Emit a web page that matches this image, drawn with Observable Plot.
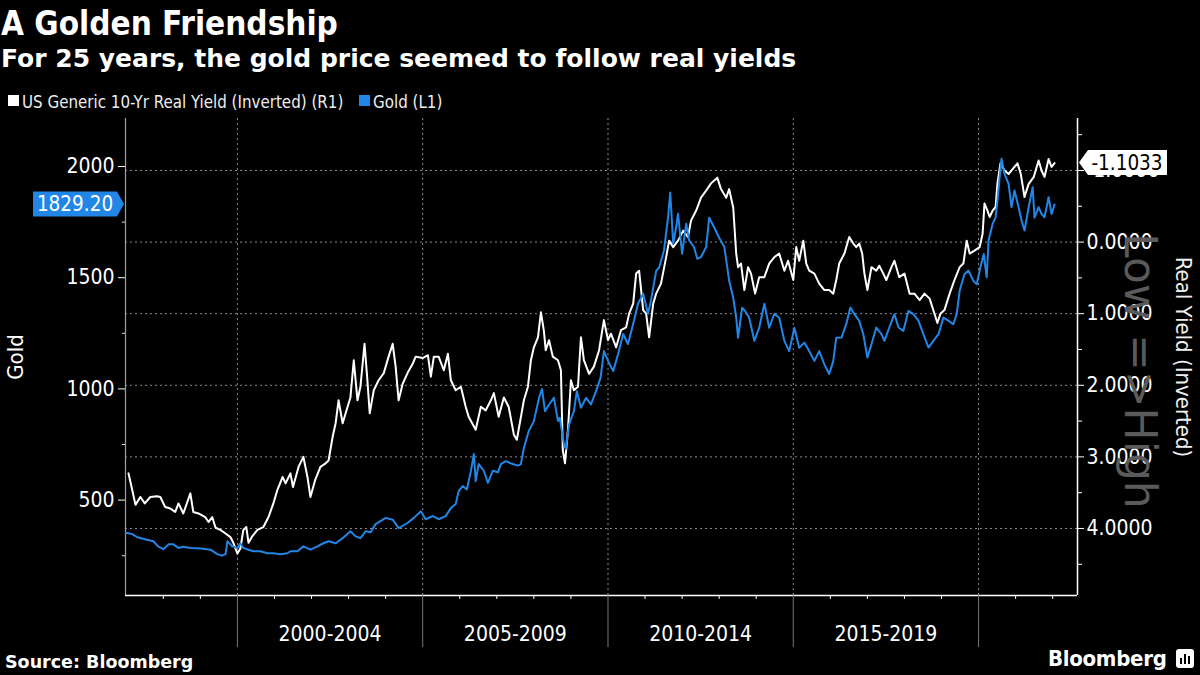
<!DOCTYPE html>
<html><head><meta charset="utf-8">
<script src="https://cdn.jsdelivr.net/npm/d3@7"></script>
<script src="https://cdn.jsdelivr.net/npm/@observablehq/plot@0.6"></script>
<style>
html,body{margin:0;padding:0;background:#000;}
#wrap{position:relative;width:1200px;height:675px;background:#000;overflow:hidden;color:#fff;font-family:"DejaVu Sans Condensed","Liberation Sans Narrow","DejaVu Sans",sans-serif;}
.t{position:absolute;white-space:nowrap;line-height:1;}
#title{left:1px;top:7px;font-size:33px;font-weight:bold;}
#subtitle{left:1px;top:46px;font-size:25px;font-weight:bold;font-family:"DejaVu Sans",sans-serif;}
.sw{position:absolute;width:11px;height:11px;}
.leg{font-size:16.8px;top:94px;color:#eee;}
#source{left:5px;top:654px;font-size:17.5px;font-weight:bold;font-family:"DejaVu Sans",sans-serif;}
#logo{left:1048px;top:648px;font-size:22px;font-weight:bold;letter-spacing:-0.3px;}
#icon{position:absolute;left:1176px;top:649px;width:18px;height:19px;background:#fff;border-radius:3px;}
#icon span{position:absolute;bottom:4px;width:2px;background:#000;}
#chart{position:absolute;left:0;top:112px;}
</style></head><body>
<div id="wrap">
  <div id="title" class="t">A Golden Friendship</div>
  <div id="subtitle" class="t">For 25 years, the gold price seemed to follow real yields</div>
  <div class="sw" style="left:8px;top:95px;background:#fff"></div>
  <div class="t leg" style="left:22px">US Generic 10-Yr Real Yield (Inverted) (R1)</div>
  <div class="sw" style="left:359px;top:95px;background:#2186e6"></div>
  <div class="t leg" style="left:373px">Gold (L1)</div>
  <div id="chart"></div>
  <div id="source" class="t">Source: Bloomberg</div>
  <div id="logo" class="t">Bloomberg</div>
  <div id="icon"><span style="left:4px;height:6px"></span><span style="left:8px;height:10px"></span><span style="left:12px;height:8px"></span></div>
</div>
<script>
// ---- data ----
const yieldT = [1997.06,1997.10,1997.25,1997.38,1997.50,1997.65,1997.83,1997.92,1998.05,1998.19,1998.32,1998.41,1998.54,1998.73,1998.81,1998.95,
1999.13,1999.22,1999.32,1999.41,1999.54,1999.68,1999.81,1999.89,2000.00,2000.08,2000.16,2000.24,2000.30,2000.40,2000.54,2000.70,2000.84,2000.97,
2001.08,2001.22,2001.30,2001.43,2001.50,2001.65,2001.78,2001.89,2001.97,2002.10,2002.24,2002.38,2002.46,2002.57,2002.65,2002.73,2002.84,2002.92,
2003.05,2003.14,2003.24,2003.32,2003.43,2003.50,2003.57,2003.68,2003.81,2003.95,2004.08,2004.19,2004.27,2004.35,2004.46,2004.59,2004.73,2004.81,
2005.00,2005.14,2005.22,2005.30,2005.43,2005.57,2005.68,2005.76,2005.89,2006.03,2006.16,2006.24,2006.43,2006.57,2006.70,2006.84,2006.92,
2007.05,2007.19,2007.32,2007.46,2007.54,2007.62,2007.73,2007.84,2007.92,2008.00,2008.11,2008.19,2008.27,2008.32,2008.41,2008.51,2008.65,2008.73,
2008.78,2008.84,2008.92,2009.00,2009.08,2009.19,2009.27,2009.35,2009.49,2009.62,2009.76,2009.89,2010.00,2010.08,2010.22,2010.35,2010.49,2010.57,
2010.68,2010.76,2010.84,2010.95,2011.03,2011.11,2011.22,2011.30,2011.43,2011.57,2011.65,2011.76,2011.89,2012.03,2012.16,2012.24,2012.38,2012.51,
2012.65,2012.78,2012.95,2013.05,2013.19,2013.27,2013.38,2013.46,2013.51,2013.59,2013.68,2013.78,2013.86,2013.97,2014.08,2014.22,2014.35,2014.49,
2014.62,2014.76,2014.86,2015.00,2015.08,2015.16,2015.27,2015.35,2015.43,2015.57,2015.70,2015.84,2015.97,2016.08,2016.16,2016.24,2016.38,2016.51,
2016.62,2016.70,2016.78,2016.86,2016.92,2017.00,2017.11,2017.24,2017.32,2017.43,2017.51,2017.65,2017.73,2017.86,2018.00,2018.14,2018.27,2018.41,
2018.54,2018.68,2018.81,2018.89,2018.97,2019.08,2019.22,2019.35,2019.49,2019.59,2019.68,2019.76,2019.89,2020.03,2020.11,2020.16,2020.24,2020.30,
2020.38,2020.46,2020.51,2020.59,2020.70,2020.81,2020.89,2020.97,2021.05,2021.14,2021.24,2021.35,2021.49,2021.62,2021.70,2021.78,2021.89,2021.97,2022.05];
const yieldV = [3.23,3.32,3.67,3.56,3.65,3.56,3.55,3.56,3.70,3.72,3.77,3.65,3.79,3.51,3.77,3.79,
3.84,3.91,3.84,3.99,4.02,4.07,4.12,4.20,4.35,4.28,4.02,3.98,4.20,4.11,4.02,3.98,3.84,3.65,
3.46,3.28,3.37,3.23,3.42,3.14,3.00,3.28,3.56,3.32,3.14,3.09,3.05,2.72,2.53,2.21,2.53,2.39,
2.17,1.65,2.21,2.02,1.42,1.88,2.39,2.07,1.93,1.83,1.60,1.42,1.74,2.21,1.98,1.83,1.70,1.60,
1.62,1.58,1.88,1.60,1.60,1.79,1.56,1.93,2.07,2.02,2.30,2.44,2.62,2.30,2.35,2.21,2.11,
2.44,2.17,2.30,2.69,2.76,2.53,2.21,2.02,1.65,1.47,1.33,0.98,1.24,1.51,1.37,1.60,1.65,1.79,
2.90,3.09,2.62,1.93,2.07,2.02,1.33,1.65,1.84,1.74,1.51,1.09,1.37,1.28,1.47,1.23,1.19,1.00,
0.86,0.44,0.40,0.95,1.00,1.33,0.86,0.72,0.58,0.21,-0.02,0.07,-0.02,-0.16,-0.07,-0.30,-0.44,-0.62,
-0.72,-0.82,-0.90,-0.74,-0.62,-0.74,-0.48,0.16,0.35,0.30,0.67,0.35,0.44,0.72,0.49,0.49,0.30,0.21,
0.16,0.40,0.26,0.53,0.07,0.26,-0.02,0.30,0.40,0.44,0.58,0.67,0.67,0.72,0.53,0.30,0.16,-0.07,
0.02,0.07,0.02,0.16,0.44,0.67,0.35,0.40,0.33,0.44,0.53,0.35,0.26,0.49,0.44,0.72,0.72,0.81,
0.72,0.79,1.00,1.13,1.00,0.95,0.72,0.53,0.35,0.30,-0.02,0.16,0.12,0.07,-0.12,-0.54,-0.44,-0.35,
-0.44,-0.49,-0.82,-1.10,-1.00,-0.95,-1.00,-1.05,-1.10,-0.95,-0.63,-0.81,-0.91,-1.14,-1.00,-0.91,-1.16,-1.05,-1.1033];

const goldT = [1997.00,1997.16,1997.30,1997.50,1997.73,1997.86,1998.00,1998.14,1998.27,1998.41,1998.54,1998.73,1998.92,1999.08,1999.27,1999.46,
1999.59,1999.68,1999.73,1999.86,2000.00,2000.08,2000.16,2000.30,2000.43,2000.62,2000.81,2000.97,2001.16,2001.35,2001.43,2001.62,2001.78,2001.97,
2002.16,2002.32,2002.46,2002.65,2002.84,2003.05,2003.19,2003.32,2003.46,2003.59,2003.73,2004.00,2004.19,2004.35,2004.59,2004.76,2004.95,
2005.08,2005.27,2005.43,2005.62,2005.76,2005.89,2005.97,2006.08,2006.19,2006.30,2006.38,2006.43,2006.51,2006.65,2006.76,2006.89,
2007.03,2007.11,2007.24,2007.43,2007.57,2007.65,2007.73,2007.86,2008.00,2008.14,2008.22,2008.30,2008.41,2008.54,2008.65,2008.70,2008.81,2008.86,2008.95,
2009.08,2009.16,2009.27,2009.41,2009.54,2009.68,2009.80,2009.89,2010.00,2010.14,2010.27,2010.41,2010.54,2010.68,2010.81,2010.95,
2011.08,2011.16,2011.30,2011.38,2011.51,2011.62,2011.68,2011.76,2011.84,2011.89,2012.00,2012.11,2012.19,2012.32,2012.41,2012.51,2012.65,2012.73,2012.86,
2013.00,2013.14,2013.27,2013.38,2013.46,2013.51,2013.62,2013.70,2013.81,2013.95,2014.08,2014.22,2014.35,2014.49,2014.62,2014.76,2014.89,
2015.03,2015.16,2015.30,2015.43,2015.57,2015.70,2015.84,2015.97,2016.08,2016.16,2016.30,2016.43,2016.54,2016.65,2016.78,2016.89,
2017.00,2017.11,2017.24,2017.38,2017.46,2017.59,2017.73,2017.84,2017.97,2018.11,2018.24,2018.38,2018.51,2018.65,2018.78,2018.92,
2019.05,2019.19,2019.32,2019.41,2019.49,2019.62,2019.73,2019.86,2019.95,2020.05,2020.14,2020.22,2020.27,2020.38,2020.46,2020.51,2020.57,2020.62,
2020.70,2020.81,2020.89,2020.97,2021.08,2021.16,2021.24,2021.35,2021.46,2021.51,2021.62,2021.70,2021.78,2021.89,2021.97,2022.05];
const goldV = [353,347,333,324,315,292,279,301,301,285,290,285,284,281,277,257,
250,257,315,292,284,306,285,277,270,270,261,261,256,261,270,270,292,277,
292,306,315,306,329,360,337,329,360,355,392,420,412,374,397,420,450,
414,428,414,428,464,482,540,563,548,630,707,585,662,632,577,632,
625,662,675,662,655,662,734,810,855,960,1000,900,930,960,856,870,752,730,840,
900,990,915,960,930,990,1050,1170,1126,1080,1155,1247,1202,1293,1383,1428,
1338,1398,1531,1546,1622,1770,1883,1653,1728,1788,1608,1743,1668,1638,1585,1593,1638,1770,1728,
1680,1638,1486,1410,1320,1230,1365,1350,1320,1216,1275,1383,1275,1338,1320,1216,1170,
1275,1185,1208,1170,1126,1170,1110,1067,1126,1230,1231,1291,1366,1336,1306,1246,
1141,1201,1276,1246,1216,1276,1336,1276,1261,1351,1336,1306,1246,1186,1216,1246,
1321,1306,1291,1336,1441,1517,1532,1486,1471,1547,1607,1502,1667,1742,1772,1847,1952,2035,
1967,1922,1817,1892,1817,1757,1712,1817,1907,1770,1817,1787,1772,1862,1787,1829.20];

const goldTicks = [500, 1000, 1500, 2000];
const goldMinorTicks = [250, 750, 1250, 1750];
const yieldTicks = [-1, 0, 1, 2, 3, 4];
const yieldMinorTicks = [-1.5, -0.5, 0.5, 1.5, 2.5, 3.5, 4.5];
const majorYears = [2000, 2005, 2010, 2015, 2020];
const minorYears = [1998, 1999, 2001, 2002, 2003, 2004, 2006, 2007, 2008, 2009, 2011, 2012, 2013, 2014, 2016, 2017, 2018, 2019, 2021, 2022];
const periodCenters = [2002.5, 2007.5, 2012.5, 2017.5];
const periodLabels = ["2000-2004", "2005-2009", "2010-2014", "2015-2019"];

// ---- scales ----
const xDomain = [1996.98, 2022.67];
const goldDomain = [71, 2216];
const yieldDomain = [4.936, -1.726];      // bottom -> top (inverted)
const toG = d3.scaleLinear().domain(yieldDomain).range(goldDomain);

const BLUE = "#2186e6";
const FONT = '"DejaVu Sans Condensed","Liberation Sans Narrow","DejaVu Sans",sans-serif';
const GRID = "#8c8c8c";

const yieldData = yieldT.map((t, i) => ({t, v: toG(yieldV[i])}));
const goldData = goldT.map((t, i) => ({t, v: goldV[i]}));
const fmtY = g => { const v = Math.round(toG.invert(g) * 1e4) / 1e4; return (Object.is(v, -0) ? 0 : v).toFixed(4); };

const chart = Plot.plot({
  width: 1200, height: 538,
  marginTop: 6, marginBottom: 55, marginLeft: 125, marginRight: 123,
  style: {background: "#000", color: "#fff", fontFamily: FONT, fontSize: "20px", overflow: "visible"},
  x: {type: "linear", domain: xDomain, label: null},
  y: {type: "linear", domain: goldDomain, label: null},
  marks: [
    Plot.ruleY(yieldTicks.map(toG), {stroke: GRID, strokeDasharray: "2,3", strokeWidth: 1}),
    Plot.ruleX(majorYears, {stroke: GRID, strokeDasharray: "2,3", strokeWidth: 1}),
    Plot.ruleX([xDomain[0]], {stroke: "#a0a0a0", strokeWidth: 1.2}),
    Plot.ruleX([xDomain[1]], {stroke: "#fff", strokeWidth: 1.5}),
    Plot.ruleY([goldDomain[0]], {stroke: "#fff", strokeWidth: 1.5}),
    // left axis
    Plot.axisY(goldTicks, {anchor: "left", tickSize: 7, tickPadding: 4, fontSize: 21, color: "#fff", label: null, tickFormat: d => String(d)}),
    Plot.axisY(goldMinorTicks, {anchor: "left", tickSize: 3, tickFormat: () => "", color: "#ddd", label: null}),
    // right axis (real yield, inverted)
    Plot.axisY(yieldTicks.map(toG), {anchor: "right", tickSize: 6, tickPadding: 3, fontSize: 21, tickFormat: fmtY, color: "#fff", label: null}),
    Plot.axisY(yieldMinorTicks.map(toG), {anchor: "right", tickSize: 4, tickFormat: () => "", color: "#fff", label: null}),
    // bottom axis
    Plot.axisX(minorYears, {anchor: "bottom", tickSize: 4, tickFormat: () => "", color: "#fff", label: null}),
    Plot.axisX(majorYears, {anchor: "bottom", tickSize: 52, tickFormat: () => "", color: "#777", label: null}),
    Plot.axisX(periodCenters, {anchor: "bottom", tickSize: 0, tickPadding: 31, fontSize: 21, color: "#fff", label: null,
      tickFormat: d => periodLabels[periodCenters.indexOf(d)]}),
    // axis titles
    Plot.text(["Gold"], {frameAnchor: "left", textAnchor: "middle", dx: -110, rotate: -90, fontSize: 22, fill: "#fff"}),
    Plot.text(["Low =>High"], {frameAnchor: "right", textAnchor: "middle", dx: 62, dy: 14, rotate: 90, fontSize: 44, fill: "#5a5a5a", fontFamily: '"DejaVu Sans",sans-serif'}),
    Plot.text(["Real Yield (Inverted)"], {frameAnchor: "right", textAnchor: "middle", dx: 106, rotate: 90, fontSize: 22, fill: "#eee"}),
    // series
    Plot.line(yieldData, {x: "t", y: "v", stroke: "#fff", strokeWidth: 2}),
    Plot.line(goldData, {x: "t", y: "v", stroke: BLUE, strokeWidth: 2})
  ]
});
document.getElementById("chart").appendChild(chart);

// last-value tags positioned with the plot's own scales
const xs = chart.scale("x"), ys = chart.scale("y");
const svg = d3.select(chart);
const xl = xs.apply(xDomain[0]), xr = xs.apply(xDomain[1]);
const lastGold = goldV[goldV.length - 1], lastYield = yieldV[yieldV.length - 1];
const yg = ys.apply(lastGold), yy = ys.apply(toG(lastYield));
const tags = svg.append("g").attr("font-family", FONT);
tags.append("path")
  .attr("d", `M${xl-92},${yg-12.5}H${xl-8}L${xl-1},${yg}L${xl-8},${yg+12.5}H${xl-92}Z`)
  .attr("fill", BLUE);
tags.append("text").attr("x", xl-50).attr("y", yg).attr("dy", "0.35em")
  .attr("text-anchor", "middle").attr("font-size", 20.5).attr("fill", "#fff")
  .text(lastGold.toFixed(2));
tags.append("path")
  .attr("d", `M${xr+2},${yy}L${xr+11},${yy-12.5}H${xr+90}V${yy+12.5}H${xr+11}Z`)
  .attr("fill", "#fff");
tags.append("text").attr("x", xr+50).attr("y", yy).attr("dy", "0.35em")
  .attr("text-anchor", "middle").attr("font-size", 20.5).attr("fill", "#000")
  .text(lastYield.toFixed(4));
</script>
</body></html>
